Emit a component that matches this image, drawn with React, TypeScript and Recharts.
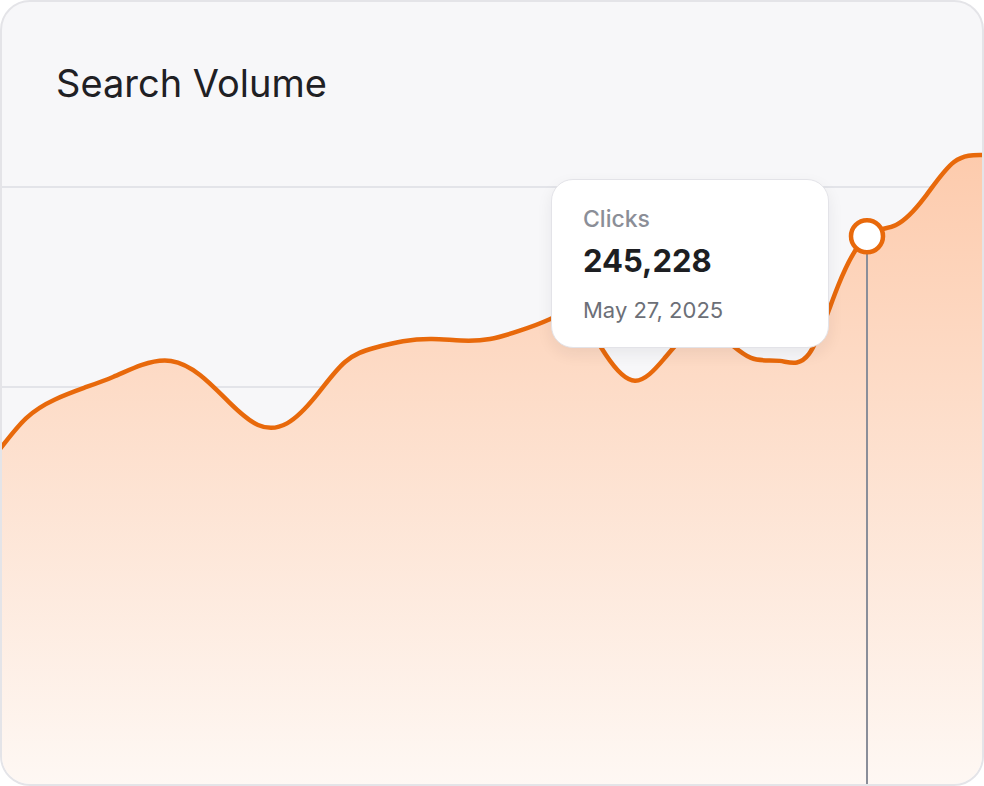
import { AreaChart, Area, XAxis, YAxis, CartesianGrid, Tooltip, ReferenceLine, ReferenceDot } from "recharts";

const days = [
  "Apr 27", "Apr 28", "Apr 29", "Apr 30",
  "May 1", "May 2", "May 3", "May 4", "May 5", "May 6", "May 7", "May 8", "May 9", "May 10",
  "May 11", "May 12", "May 13", "May 14", "May 15", "May 16", "May 17", "May 18", "May 19", "May 20",
  "May 21", "May 22", "May 23", "May 24", "May 25", "May 26", "May 27", "May 28", "May 29", "May 30", "May 31",
];

const clicks = [
  180214, 190612, 196268, 199735,
  203012, 206617, 207804, 203606, 195477, 188614, 189086, 197318, 207496, 211688,
  213715, 214391, 213942, 214392, 216817, 220084, 221306, 209613, 201895, 208434,
  216782, 214906, 208714, 207841, 209927, 230296, 245228, 248602, 257012, 267486, 269583,
];

const gridTicks = [140000, 200000, 260000];
const yDomain = [80000, 320000];
const activeDay = "May 27";
const year = 2025;

const data = days.map((day, i) => ({ day, clicks: clicks[i] }));
const activeIndex = days.indexOf(activeDay);

const ORANGE = "#e8690b";

function ClicksTooltip({ active, payload, label }: any) {
  if (!active || !payload || !payload.length) return null;
  return (
    <div
      style={{
        boxSizing: "border-box",
        width: 278,
        height: 169,
        padding: "25px 31px 0",
        background: "#ffffff",
        border: "1.5px solid #e3e3e8",
        borderRadius: 22,
        boxShadow: "0 6px 16px rgba(30, 32, 48, 0.07)",
        fontFamily: "Inter, 'Noto Sans', sans-serif",
      }}
    >
      <div style={{ fontSize: 23, lineHeight: "28px", fontWeight: 500, color: "#8b8e97" }}>Clicks</div>
      <div style={{ marginTop: 10, fontSize: 31, lineHeight: "36px", fontWeight: 700, color: "#1d1e22" }}>
        {Number(payload[0].value).toLocaleString("en-US")}
      </div>
      <div style={{ marginTop: 17, fontSize: 22, lineHeight: "28px", fontWeight: 400, color: "#6c6f77" }}>
        {label}, {year}
      </div>
    </div>
  );
}

export default function App() {
  return (
    <>
      <style>{"body{margin:0}"}</style>
      <div
        style={{
          position: "relative",
          boxSizing: "border-box",
          width: 984,
          height: 786,
          border: "2px solid #e4e4e8",
          borderRadius: 30,
          background: "#f7f7f9",
          overflow: "hidden",
          fontFamily: "Inter, 'Noto Sans', sans-serif",
        }}
      >
        <div
          style={{
            position: "absolute",
            left: 54,
            top: 57,
            fontSize: 38,
            lineHeight: "48px",
            fontWeight: 400,
            color: "#1f2024",
          }}
        >
          Search Volume
        </div>
        <div style={{ position: "absolute", left: -5, top: -15 }}>
          <AreaChart width={986} height={800} data={data} margin={{ top: 0, right: 0, bottom: 0, left: 0 }}>
            <defs>
              <linearGradient id="clicksFill" x1="0" y1="0" x2="0" y2="1">
                <stop offset="0%" stopColor="#fdcbad" />
                <stop offset="35%" stopColor="#fddbc6" />
                <stop offset="100%" stopColor="#fef8f4" />
              </linearGradient>
            </defs>
            <CartesianGrid vertical={false} stroke="#dddee3" strokeWidth={1.5} />
            <XAxis dataKey="day" hide />
            <YAxis hide domain={yDomain} ticks={gridTicks} />
            <Tooltip
              content={<ClicksTooltip />}
              defaultIndex={activeIndex}
              active
              cursor={false}
              position={{ x: 554, y: 192 }}
              isAnimationActive={false}
              wrapperStyle={{ outline: "none" }}
            />
            <Area
              type="natural"
              dataKey="clicks"
              stroke={ORANGE}
              strokeWidth={4.5}
              fill="url(#clicksFill)"
              fillOpacity={1}
              dot={false}
              activeDot={false}
              isAnimationActive={false}
            />
            <ReferenceLine
              segment={[
                { x: activeDay, y: clicks[activeIndex] },
                { x: activeDay, y: yDomain[0] },
              ]}
              stroke="#8a8e99"
              strokeWidth={2}
            />
            <ReferenceDot
              x={activeDay}
              y={clicks[activeIndex]}
              r={16}
              fill="#ffffff"
              stroke={ORANGE}
              strokeWidth={4.5}
            />
          </AreaChart>
        </div>
      </div>
    </>
  );
}
